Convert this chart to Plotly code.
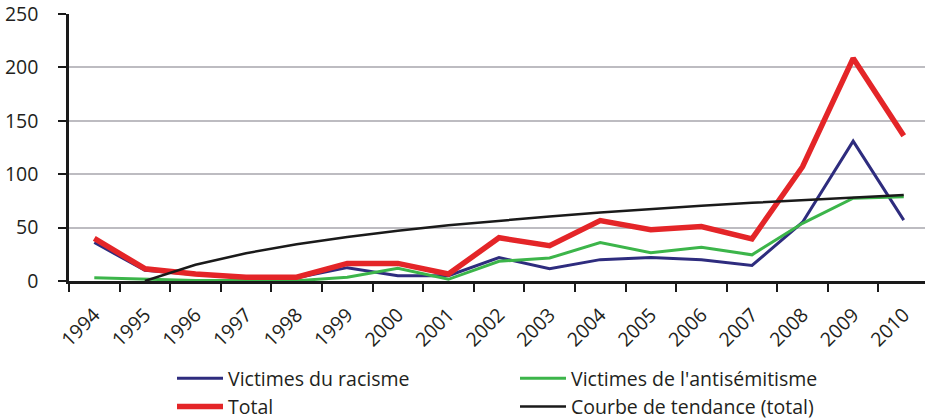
import plotly.graph_objects as go

years = [str(y) for y in range(1994, 2011)]
racisme = [36, 10, 6, 3, 3, 12.5, 5, 5, 22, 11.5, 20, 22, 20, 14.5, 55, 131, 57]
antisemitisme = [3, 1.5, 0.5, 0.5, 0.3, 3.5, 12, 1.6, 18.5, 21.5, 36, 26.5, 31.5, 24.5, 54, 77.5, 79]
total = [40, 11.5, 6.5, 3.5, 3.5, 16.5, 16.5, 6.5, 40.5, 33, 56.5, 48, 51, 39.5, 107, 208.5, 136]
tendance = [None, 0, 15.2, 26, 34.5, 41.3, 47.1, 52.1, 56.6, 60.5, 64.1, 67.4, 70.4, 73.2, 75.8, 78.2, 80.5]

FONT = "Open Sans"
TXT = "#231F20"

fig = go.Figure()
fig.add_trace(go.Scatter(x=years, y=racisme, mode="lines", name="Victimes du racisme",
                         line=dict(color="#2E2C7E", width=3)))
fig.add_trace(go.Scatter(x=years, y=antisemitisme, mode="lines", name="Victimes de l'antisémitisme",
                         line=dict(color="#3CB54A", width=3)))
fig.add_trace(go.Scatter(x=years, y=total, mode="lines", name="Total",
                         line=dict(color="#E42528", width=5.5)))
fig.add_trace(go.Scatter(x=years, y=tendance, mode="lines", name="Courbe de tendance (total)",
                         line=dict(color="#1A1A1A", width=2.5)))

fig.update_layout(
    width=925, height=419,
    margin=dict(l=69, r=0, t=14, b=138),
    paper_bgcolor="white", plot_bgcolor="white",
    font=dict(family=FONT, size=19.5, color=TXT),
    showlegend=True,
    legend=dict(orientation="h", xref="container", yref="container",
                x=172/925, y=1-359/419, xanchor="left", yanchor="top",
                entrywidth=282, entrywidthmode="pixels", itemwidth=46,
                font=dict(family=FONT, size=19.5, color=TXT),
                bgcolor="rgba(0,0,0,0)", tracegroupgap=0),
)
fig.update_xaxes(type="category", categoryorder="array", categoryarray=years,
                 range=[-0.5, 16.42], tickson="boundaries", ticks="outside",
                 ticklen=8, tickwidth=2, tickcolor="#1A1A1A",
                 showline=True, linewidth=2.5, linecolor="#1A1A1A",
                 showgrid=False, tickangle=-45, ticklabelstandoff=12,
                 ticklabeloverflow="allow",
                 tickfont=dict(family=FONT, size=19.5, color=TXT))
fig.update_yaxes(range=[0, 250], dtick=50, tick0=0, ticks="outside",
                 ticklen=8, tickwidth=2, tickcolor="#1A1A1A",
                 showline=True, linewidth=2.5, linecolor="#1A1A1A",
                 showgrid=True, gridcolor="#BDBCC1", gridwidth=2,
                 zeroline=False, ticklabelstandoff=16,
                 ticklabeloverflow="allow",
                 tickfont=dict(family=FONT, size=19.5, color=TXT))

fig.write_html("out.html")
